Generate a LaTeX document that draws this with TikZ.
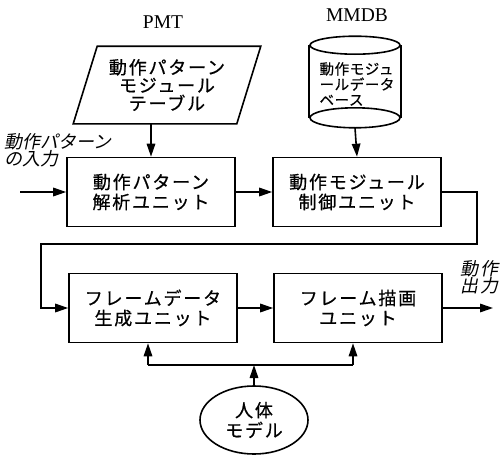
\documentclass[tikz,border=0pt]{standalone}
\usepackage{fontspec}
\setmainfont{Liberation Serif}
\newfontfamily\jp{Noto Sans CJK JP}[LetterSpace=10,FakeBold=0.6]
\newfontfamily\jpsmall{Noto Sans CJK JP}[LetterSpace=4,FakeBold=0.6]
\newfontfamily\jpit{Noto Sans CJK JP}[FakeSlant=0.2]
\newfontfamily\jpitw{Noto Sans CJK JP}[FakeSlant=0.2,LetterSpace=10]
\usetikzlibrary{arrows.meta,shapes.geometric}
\begin{document}
\begin{tikzpicture}[x=1pt,y=-1pt,line width=1.6pt,
  unit/.style={draw,minimum width=168pt,minimum height=69pt,inner sep=0pt,align=center,font=\jp\fontsize{18}{20}\selectfont},
  arr/.style={-{Triangle[length=13pt,width=8.5pt]}},
  title/.style={font=\fontsize{19.5}{22}\selectfont},
  outlbl/.style={align=left,inner sep=0pt,font=\jpit\fontsize{18}{17}\selectfont}]
\useasboundingbox (0,0) rectangle (502,455);
% titles
\node[title] (tpmt) at (163,22) {PMT};
\node[title] (tmmdb) at (357,15) {MMDB};
% parallelogram PMT
\node[minimum width=162pt,minimum height=76pt,inner sep=0pt,align=center,
  font=\jp\fontsize{18}{18}\selectfont] (pmt) at (167,85)
  {\raisebox{-5pt}{\parbox{150pt}{\centering 動作パターン\\モジュール\\テーブル}}};
\draw ([xshift=-12pt]pmt.south west) -- ([xshift=-12pt]pmt.south east)
  -- ([xshift=12pt]pmt.north east) -- ([xshift=12pt]pmt.north west) -- cycle;
% cylinder MMDB
\node[minimum width=90pt,minimum height=90pt,inner sep=0pt] (mmdb) at (355,82) {};
\draw ([yshift=-9pt]mmdb.north) ellipse [x radius=45pt,y radius=9pt];
\draw ([yshift=10pt]mmdb.south) ellipse [x radius=45pt,y radius=10pt];
\draw ([yshift=-9pt]mmdb.north west) -- ([yshift=10pt]mmdb.south west);
\draw ([yshift=-9pt]mmdb.north east) -- ([yshift=10pt]mmdb.south east);
\node[align=left,inner sep=0pt,font=\jpsmall\fontsize{14.5}{15.5}\selectfont] (mmdbtxt) at (357,84)
  {動作モジュ\\ールデータ\\ベース};
% units
\node[unit] (u1) at (151,192) {動作パターン\\解析ユニット};
\node[unit] (u2) at (357,192) {動作モジュール\\制御ユニット};
\node[unit] (u3) at (153,308) {フレームデータ\\生成ユニット};
\node[unit] (u4) at (358,308) {フレーム描画\\ユニット};
% human model
\node[ellipse,draw,minimum width=108pt,minimum height=68pt,inner sep=0pt,align=center,
  font=\jp\fontsize{18}{20}\selectfont] (body) at (254,420) {人体\\モデル};
% labels
\node[outlbl,anchor=west] (inlbl) at (4,150) {動作パターン\\の入力};
\node[outlbl,anchor=west,font=\jpitw\fontsize{18}{17}\selectfont] (outtxt) at (460,277) {動作\\出力};
% coordinates
\coordinate (in) at (20,192);
\coordinate (out) at (493,308);
\coordinate (c1) at (477,192);
\coordinate (c2) at (477,244);
\coordinate (c3) at (41,244);
\coordinate (c4) at (41,308);
\coordinate (busL) at (148,365);
\coordinate (busR) at (353,365);
% connectors
\draw[arr] (u1.north |- pmt.south) -- (u1.north);
\draw[arr] (mmdb.south) -- (u2.north);
\draw[arr] (in) -- (u1.west);
\draw[arr] (u1.east) -- (u2.west);
\draw[arr] (u2.east) -- (c1) -- (c2) -- (c3) -- (c4) -- (u3.west);
\draw[arr] (u3.east) -- (u4.west);
\draw[arr] (u4.east) -- (out);
\draw (busL) -- (busR);
\draw[arr] (busL) -- (busL |- u3.south);
\draw[arr] (busR) -- (busR |- u4.south);
\draw[arr] (body.north) -- (body.north |- busL);
\end{tikzpicture}
\end{document}
